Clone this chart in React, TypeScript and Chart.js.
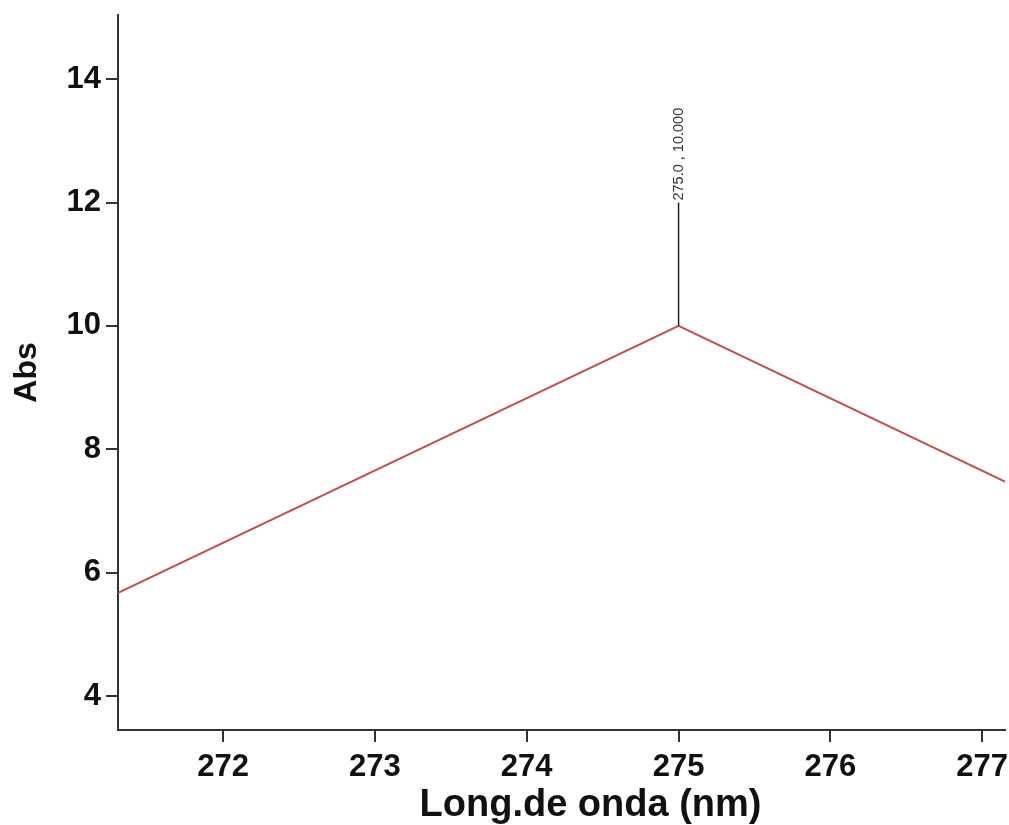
import React, { useEffect, useRef } from "react";
import { Chart, registerables } from "chart.js";

Chart.register(...registerables);

const wavelengths = [271, 275, 279];
const absorbance = [5.31, 10.0, 5.3];
const xTicks = [272, 273, 274, 275, 276, 277];
const yTicks = [4, 6, 8, 10, 12, 14];
const peakX = 275.0;
const peakY = 10.0;
const peakLabel = "275.0 , 10.000";
const markerTop = 12;
const xTitle = "Long.de onda (nm)";
const yTitle = "Abs";

const FONT = "'Liberation Sans', Arial, sans-serif";

const peakPlugin = {
  id: "peakMarker",
  afterDatasetsDraw(chart: any) {
    const { ctx, scales } = chart;
    const x = scales.x.getPixelForValue(peakX);
    const y0 = scales.y.getPixelForValue(peakY);
    const y1 = scales.y.getPixelForValue(markerTop);
    ctx.save();
    ctx.strokeStyle = "#222";
    ctx.lineWidth = 1.5;
    ctx.beginPath();
    ctx.moveTo(x, y0);
    ctx.lineTo(x, y1);
    ctx.stroke();
    ctx.translate(x, y1 - 2);
    ctx.rotate(-Math.PI / 2);
    ctx.fillStyle = "#333";
    ctx.font = "14.5px " + FONT;
    ctx.textAlign = "left";
    ctx.textBaseline = "middle";
    ctx.fillText(peakLabel, 0, 0);
    ctx.restore();
  },
  afterDraw(chart: any) {
    const { ctx, chartArea } = chart;
    ctx.save();
    ctx.fillStyle = "#111";
    ctx.font = "bold 38px " + FONT;
    ctx.textAlign = "center";
    ctx.textBaseline = "alphabetic";
    ctx.fillText(xTitle, (chartArea.left + chartArea.right) / 2 + 29, 816);
    ctx.restore();
  },
};

export default function App() {
  const ref = useRef<HTMLCanvasElement>(null);
  useEffect(() => {
    if (!ref.current) return;
    const chart = new Chart(ref.current, {
      type: "line",
      data: {
        datasets: [
          {
            data: wavelengths.map((w, i) => ({ x: w, y: absorbance[i] })),
            borderColor: "#c4504c",
            borderWidth: 2,
            pointRadius: 0,
            fill: false,
            tension: 0,
          },
        ],
      },
      plugins: [peakPlugin],
      options: {
        animation: false,
        responsive: true,
        maintainAspectRatio: false,
        layout: { padding: { top: 15, right: 4, left: 0, bottom: 0 } },
        plugins: { legend: { display: false }, tooltip: { enabled: false } },
        scales: {
          x: {
            type: "linear",
            min: 271.308,
            max: 277.15,
            afterFit: (s: any) => {
              s.height = 95;
              s.paddingLeft = 0;
              s.paddingRight = 0;
            },
            afterBuildTicks: (s: any) => {
              s.ticks = xTicks.map((v) => ({ value: v }));
            },
            ticks: {
              includeBounds: false,
              color: "#111",
              padding: 7,
              maxRotation: 0,
              font: { family: FONT, size: 31, weight: "bold" },
              callback: (v: any) => String(v),
            },
            grid: { drawOnChartArea: false, drawTicks: true, tickLength: 12, color: "#333", lineWidth: 2 },
            border: { display: true, color: "#333", width: 2 },
            title: { display: false, text: xTitle },
          },
          y: {
            type: "linear",
            min: 3.449,
            max: 15.04,
            afterFit: (s: any) => {
              s.width = 118;
              s.paddingTop = 0;
              s.paddingBottom = 0;
            },
            afterBuildTicks: (s: any) => {
              s.ticks = yTicks.map((v) => ({ value: v }));
            },
            ticks: {
              includeBounds: false,
              color: "#111",
              padding: 5,
              font: { family: FONT, size: 31, weight: "bold" },
              callback: (v: any) => String(v),
            },
            grid: { drawOnChartArea: false, drawTicks: true, tickLength: 12, color: "#333", lineWidth: 2 },
            border: { display: true, color: "#333", width: 2 },
            title: {
              display: true,
              text: yTitle,
              color: "#111",
              padding: { top: 8, bottom: 0 },
              font: { family: FONT, size: 32, weight: "bold" },
            },
          },
        },
      },
    });
    return () => chart.destroy();
  }, []);
  return (
    <div style={{ position: "absolute", left: 0, top: 0, width: 1009, height: 825, background: "#fff" }}>
      <canvas ref={ref} />
    </div>
  );
}
